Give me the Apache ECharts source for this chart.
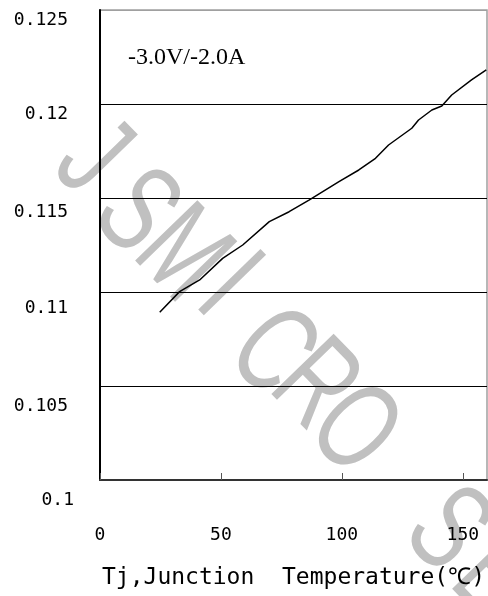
<!DOCTYPE html>
<html>
<head>
<meta charset="utf-8">
<script src="https://cdn.jsdelivr.net/npm/echarts@6/dist/echarts.min.js"></script>
<style>html,body{margin:0;padding:0;background:#fff;}#c{width:488px;height:596px;}</style>
</head>
<body>
<div id="c"></div>
<script>
// Data
const tempC = [24.7, 32.9, 41.2, 50.7, 59.0, 70.0, 78.2, 86.4, 98.8, 107.0, 113.9, 119.3, 128.9, 131.7, 137.2, 141.3, 145.4, 153.6, 159.7];
const rdsOn = [0.10892, 0.11002, 0.11064, 0.11179, 0.11250, 0.11374, 0.11427, 0.11489, 0.11587, 0.11649, 0.11711, 0.11782, 0.11871, 0.11915, 0.11968, 0.11989, 0.12048, 0.12128, 0.12181];
const yTickLabels = ['0.1', '0.105', '0.11', '0.115', '0.12', '0.125'];
const xTickLabels = ['0', '50', '100', '150'];
const conditionText = '-3.0V/-2.0A';
const xAxisTitle = 'Tj,Junction  Temperature(\u2103)';
const watermarkLetters = ['J', 'S', 'M', 'I', 'C', 'R', 'O', 'S', 'E'];

const chart = echarts.init(document.getElementById('c'), null, {renderer: 'canvas'});

const wmPos = [[90,160],[134,214],[180,257],[226,288],[270,354],[313,387],[352,432],[445,532],[492,580]];
const wmElements = watermarkLetters.map((ch, i) => ({
  type: 'text',
  x: wmPos[i][0], y: wmPos[i][1],
  rotation: -0.80,
  scaleX: 0.68,
  z: -100,
  silent: true,
  style: {
    text: ch,
    fill: '#c0c0c0',
    font: '126px "Liberation Sans", Arial, sans-serif',
    align: 'center',
    verticalAlign: 'middle'
  }
}));

const monoFont = '"DejaVu Sans Mono", monospace';
const yRich = {};
const yPads = [[40,0,0,0],[40,6,0,0],[32,6,0,0],[28,6,0,0],[20,6,0,0],[20,6,0,0]];
yPads.forEach((p, i) => {
  yRich['r' + i] = {fontFamily: monoFont, fontSize: 18, color: '#000', padding: p};
});

const pairs = tempC.map((t, i) => [t, rdsOn[i]]);

chart.setOption({
  animation: false,
  backgroundColor: '#fff',
  grid: {left: 100, top: 10, right: 1, bottom: 116, outerBoundsMode: 'none', containLabel: false, show: true, borderColor: '#a0a0a0', borderWidth: 1.5},
  graphic: {
    elements: wmElements.concat([{
      type: 'text', x: 128, y: 58, z: 50,
      style: {text: conditionText, fill: '#000', font: '24px "Liberation Serif", "Times New Roman", serif', align: 'left', verticalAlign: 'middle'}
    }])
  },
  xAxis: {
    type: 'value', min: 0, max: 160, interval: 50,
    axisLine: {show: true, onZero: false, lineStyle: {color: '#333', width: 2}},
    axisTick: {show: true, inside: true, length: 7, lineStyle: {color: '#555', width: 1}},
    splitLine: {show: false},
    axisLabel: {
      margin: 46, fontFamily: monoFont, fontSize: 18, color: '#000',
      formatter: v => { const i = Math.round(v / 50); return xTickLabels[i] !== undefined ? xTickLabels[i] : ''; },
      showMaxLabel: false
    },
    name: xAxisTitle, nameLocation: 'middle', nameGap: 87,
    nameTextStyle: {fontFamily: monoFont, fontSize: 23, color: '#000'}
  },
  yAxis: {
    type: 'value', min: 0.1, max: 0.125, interval: 0.005,
    axisLine: {show: true, lineStyle: {color: '#000', width: 2}},
    axisTick: {show: false},
    splitLine: {show: true, lineStyle: {color: ['#000','#000','#000','#000','#000','#a0a0a0'], width: 1}},
    axisLabel: {
      margin: 26,
      formatter: v => { const i = Math.round((v - 0.1) / 0.005); return '{r' + i + '|' + yTickLabels[i] + '}'; },
      rich: yRich
    }
  },
  series: [{
    type: 'line', data: pairs, showSymbol: false, smooth: false,
    lineStyle: {color: '#000', width: 1.5}, z: 10
  }]
});
</script>
</body>
</html>
